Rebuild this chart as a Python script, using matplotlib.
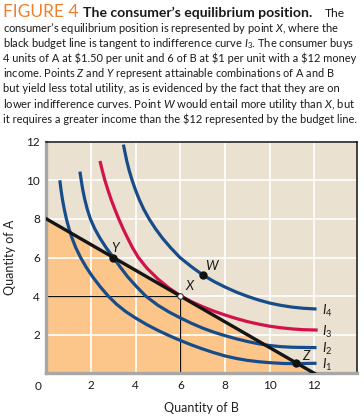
import matplotlib.pyplot as plt

plt.rcParams['font.family'] = 'Lato'
plt.rcParams['mathtext.fontset'] = 'custom'
plt.rcParams['mathtext.rm'] = 'Lato'
plt.rcParams['mathtext.it'] = 'Lato:italic'
plt.rcParams['mathtext.bf'] = 'Lato:bold'

# indifference curves
i1_x = [0.6, 0.655, 0.72, 0.8, 0.895, 1.01, 1.15, 1.32, 1.53, 1.78, 2.07, 2.4, 2.77, 3.15, 3.55,
        4.0, 4.5, 5.0, 5.5, 6.0, 6.5, 7.0, 7.5, 8.0, 8.5, 9.0, 9.5, 10.0, 10.6, 11.2, 12.1]
i1_y = [10.0, 9.5, 9.0, 8.5, 8.0, 7.5, 7.0, 6.5, 6.0, 5.5, 5.0, 4.5, 4.0, 3.57, 3.2,
        2.86, 2.52, 2.22, 1.95, 1.7, 1.47, 1.26, 1.07, 0.9, 0.77, 0.67, 0.6, 0.55, 0.51, 0.5, 0.52]
i2_x = [1.5, 1.56, 1.63, 1.72, 1.83, 1.97, 2.16, 2.4, 2.68, 3.0, 3.31, 3.64, 4.03, 4.45,
        5.0, 5.5, 6.0, 6.5, 7.0, 7.5, 8.0, 8.5, 9.0, 9.5, 10.0, 10.5, 11.0, 12.1]
i2_y = [10.45, 10.0, 9.5, 9.0, 8.5, 8.0, 7.5, 7.0, 6.5, 6.0, 5.5, 5.0, 4.5, 4.0,
        3.52, 3.17, 2.87, 2.59, 2.34, 2.13, 1.95, 1.79, 1.65, 1.53, 1.44, 1.38, 1.35, 1.33]
i3_x = [2.4, 2.505, 2.62, 2.755, 2.9, 3.065, 3.24, 3.43, 3.64, 3.86, 4.12, 4.5, 5.0, 5.5,
        6.0, 6.5, 7.0, 7.5, 8.0, 8.5, 9.0, 9.5, 10.0, 10.5, 11.0, 11.5, 12.15]
i3_y = [11.0, 10.5, 10.0, 9.5, 9.0, 8.5, 8.0, 7.5, 7.0, 6.5, 6.0, 5.45, 4.88, 4.41,
        4.02, 3.71, 3.45, 3.22, 3.02, 2.84, 2.68, 2.55, 2.44, 2.36, 2.3, 2.26, 2.24]
i4_x = [3.45, 3.51, 3.6, 3.71, 3.84, 3.99, 4.16, 4.36, 4.6, 4.88, 5.2, 5.57, 5.98, 6.5,
        7.0, 7.5, 8.0, 8.5, 9.0, 9.5, 10.0, 10.5, 11.0, 11.5, 12.1]
i4_y = [11.85, 11.5, 11.0, 10.5, 10.0, 9.5, 9.0, 8.5, 8.0, 7.5, 7.0, 6.5, 6.0, 5.52,
        5.1, 4.76, 4.47, 4.21, 3.99, 3.8, 3.64, 3.52, 3.43, 3.37, 3.33]

budget_x = [0, 12]
budget_y = [8, 0]

pts_name = ['Y', 'X', 'W', 'Z']
pts_x = [3, 6, 7, 11.2]
pts_y = [6, 4, 5.1, 0.53]

x_ticks = [2, 4, 6, 8, 10, 12]
y_ticks = [2, 4, 6, 8, 10, 12]

blue = '#174C8A'
red = '#D3124B'
ink = '#1a1a1a'

fig = plt.figure(figsize=(3.64, 4.2), dpi=100)
W, H = 364, 420
renderer = fig.canvas.get_renderer()

def px(x, y):
    return x / W, 1 - y / H

def fit_text(x, y, s, width, size, **kw):
    # shrink/grow the font so the line spans the same width as in the print
    t = fig.text(*px(x, y), s, fontsize=size, **kw)
    w = t.get_window_extent(renderer).width
    t.set_fontsize(size * width / w)
    return t

fig.text(*px(3, 17), 'FIGURE 4', color='#EE7F2D', fontsize=12.5)
fit_text(83, 17, 'The consumer\u2019s equilibrium position.', 229, 9, fontweight='bold', color=ink)
fit_text(325, 17, 'The', 20, 8.6, color=ink)
caption = [
    'consumer\u2019s equilibrium position is represented by point $X$, where the',
    'black budget line is tangent to indifference curve $I_3$. The consumer buys',
    '4 units of A at \\$1.50 per unit and 6 of B at \\$1 per unit with a \\$12 money',
    'income. Points $Z$ and $Y$ represent attainable combinations of A and B',
    'but yield less total utility, as is evidenced by the fact that they are on',
    'lower indifference curves. Point $W$ would entail more utility than $X$, but',
    'it requires a greater income than the \\$12 represented by the budget line.',
]
widths = [337, 350, 350, 330, 335, 352, 351]
for i, line in enumerate(caption):
    fit_text(3, 32 + 15.1 * i, line, widths[i], 8.2, color=ink)

ax = fig.add_axes([0.1275, 0.1112, 0.8525, 0.5514])
ax.set_facecolor('#EBE1D0')
ax.set_xlim(0, 13.9)
ax.set_ylim(0, 12)

ax.fill_between(budget_x, budget_y, 0, color='#FCC58A', lw=0, zorder=0.3)
ax.set_axisbelow(True)
ax.grid(color='white', lw=1.2)

ax.plot([0, 6], [4, 4], color='#111111', lw=0.9, zorder=2)
ax.plot([6, 6], [0, 4], color='#111111', lw=0.9, zorder=2)

for cx, cy, c in [(i1_x, i1_y, blue), (i2_x, i2_y, blue), (i4_x, i4_y, blue), (i3_x, i3_y, red)]:
    ax.plot(cx, cy, color=c, lw=2.3, solid_capstyle='butt', solid_joinstyle='round', zorder=3)
ax.plot(budget_x, budget_y, color='#151515', lw=2.4, zorder=4)

for n, x, y in zip(pts_name, pts_x, pts_y):
    if n == 'X':
        ax.plot(x, y, 'o', ms=4, mfc='white', mec='#333333', mew=0.8, zorder=5)
    else:
        ax.plot(x, y, 'o', ms=5, color='#111111', zorder=5)

ax.text(3.1, 6.5, 'Y', style='italic', fontsize=9.5, ha='center', va='center', color=ink)
ax.text(6.4, 4.5, 'X', style='italic', fontsize=9.5, ha='center', va='center', color=ink)
ax.text(7.4, 5.55, 'W', style='italic', fontsize=9.5, ha='center', va='center', color=ink)
ax.text(11.6, 0.88, 'Z', style='italic', fontsize=9.5, ha='center', va='center', color=ink)

for lab, y in zip(['$I_4$', '$I_3$', '$I_2$', '$I_1$'], [i4_y[-1], i3_y[-1], i2_y[-1], i1_y[-1]]):
    ax.text(12.35, y - 0.08, lab, fontsize=9.5, ha='left', va='center', color=ink)

ax.set_xticks(x_ticks)
ax.set_yticks(y_ticks)
ax.tick_params(length=0, labelsize=8.5, pad=4.5, colors='#1a1a1a')
ax.annotate('0', xy=(0, 0), xytext=(-6, -9.5), textcoords='offset points',
            ha='center', va='center', fontsize=8.5, color='#1a1a1a', annotation_clip=False)

for s in ['left', 'bottom']:
    ax.spines[s].set_color('#A7A7A7')
    ax.spines[s].set_linewidth(2.4)
for s in ['top', 'right']:
    ax.spines[s].set_color('#111111')
    ax.spines[s].set_linewidth(1.1)

ax.set_xlabel('Quantity of B', fontsize=9, color='#222222')
ax.set_ylabel('Quantity of A', fontsize=9, color='#222222')
ax.xaxis.set_label_coords(0.5, -0.122)
ax.yaxis.set_label_coords(-0.098, 0.502)

fig.savefig('out.png', dpi=100)
